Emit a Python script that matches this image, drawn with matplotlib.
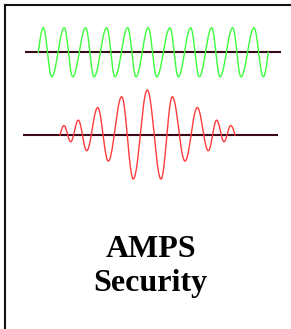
import matplotlib
matplotlib.use("Agg")
import matplotlib.pyplot as plt
from matplotlib.lines import Line2D
import numpy as np

# Data
# green carrier: start, alternating peaks / troughs, end  (time, amplitude)
green_t = [0, 5.0, 13.4, 26.0, 34.4, 47.4, 55.7, 68.4, 76.7, 89.4, 97.7, 110.0,
           118.4, 131.7, 140.0, 152.4, 161.0, 173.4, 181.7, 194.4, 202.7, 215.7,
           225.0, 230.0]
green_a = [0, 1, -1, 1, -1, 1, -1, 1, -1, 1, -1, 1,
           -1, 1, -1, 1, -1, 1, -1, 1, -1, 1,
           -1, 0]

# red wave packet: start, alternating peaks / troughs, end
red_t = [0, 4.0, 10.7, 18.3, 26.7, 37.7, 48.3, 61.7, 73.3, 87.3, 101.0, 112.3,
         125.0, 137.3, 148.3, 156.7, 164.0, 170.7, 175.0]
red_a = [0, 0.21, -0.15, 0.33, -0.35, 0.61, -0.58, 0.85, -0.98, 1.0, -0.98, 0.85,
         -0.58, 0.61, -0.35, 0.33, -0.15, 0.21, 0]

title_lines = ["AMPS", "Security"]

#####################################################################
# smooth half wave between each pair of extrema
def wave(t, a):
    xs, ys = [], []
    n = len(t)
    for i in range(n - 1):
        s = np.linspace(0, 1, 30)
        if i == 0:
            y = a[i + 1] * np.sin(np.pi / 2 * s)
        elif i == n - 2:
            y = a[i] * np.cos(np.pi / 2 * s)
        else:
            y = a[i] + (a[i + 1] - a[i]) * (1 - np.cos(np.pi * s)) / 2
        xs.extend(t[i] + (t[i + 1] - t[i]) * s)
        ys.extend(y)
    return xs, ys

W, H = 291, 329
fig = plt.figure(figsize=(W / 100, H / 100), dpi=100)
fig.patch.set_facecolor("white")

base_col = "#3c0a16"

# green axes: pixel span x 25..281, y 22..82, baseline at 52.3
ax1 = fig.add_axes([25 / W, 1 - 82 / H, 256 / W, 60 / H])
gx, gy = wave(green_t, green_a)
ax1.axhline(0, color=base_col, lw=1.5)
ax1.plot(gx, gy, color="#3dff3d", lw=1.0)
ax1.set_xlim(-13.3, 242.7)
ax1.set_ylim(-(82 - 52.3) / 24.5, (52.3 - 22) / 24.5)
ax1.axis("off")

# red axes: pixel span x 23..278, y 85..185, baseline at 135
ax2 = fig.add_axes([23 / W, 1 - 185 / H, 255 / W, 100 / H])
rx, ry = wave(red_t, red_a)
ax2.axhline(0, color=base_col, lw=1.5)
ax2.plot(rx, ry, color="#ff3c3c", lw=1.0)
ax2.set_xlim(-37, 218)
ax2.set_ylim(-50 / 45, 50 / 45)
ax2.axis("off")

# frame on left and top only
fig.add_artist(Line2D([5 / W, 5 / W], [0, 1 - 5 / H], color="#111111", lw=1.5))
fig.add_artist(Line2D([5 / W, 1], [1 - 5 / H, 1 - 5 / H], color="#111111", lw=1.5))

# title text
fig.text(150.8 / W, 1 - 256.7 / H, title_lines[0], ha="center", va="baseline",
         fontsize=23, fontweight="bold", family="Liberation Serif")
fig.text(150.8 / W, 1 - 290.7 / H, title_lines[1], ha="center", va="baseline",
         fontsize=23, fontweight="bold", family="Liberation Serif")

fig.savefig("out.png", dpi=100)
